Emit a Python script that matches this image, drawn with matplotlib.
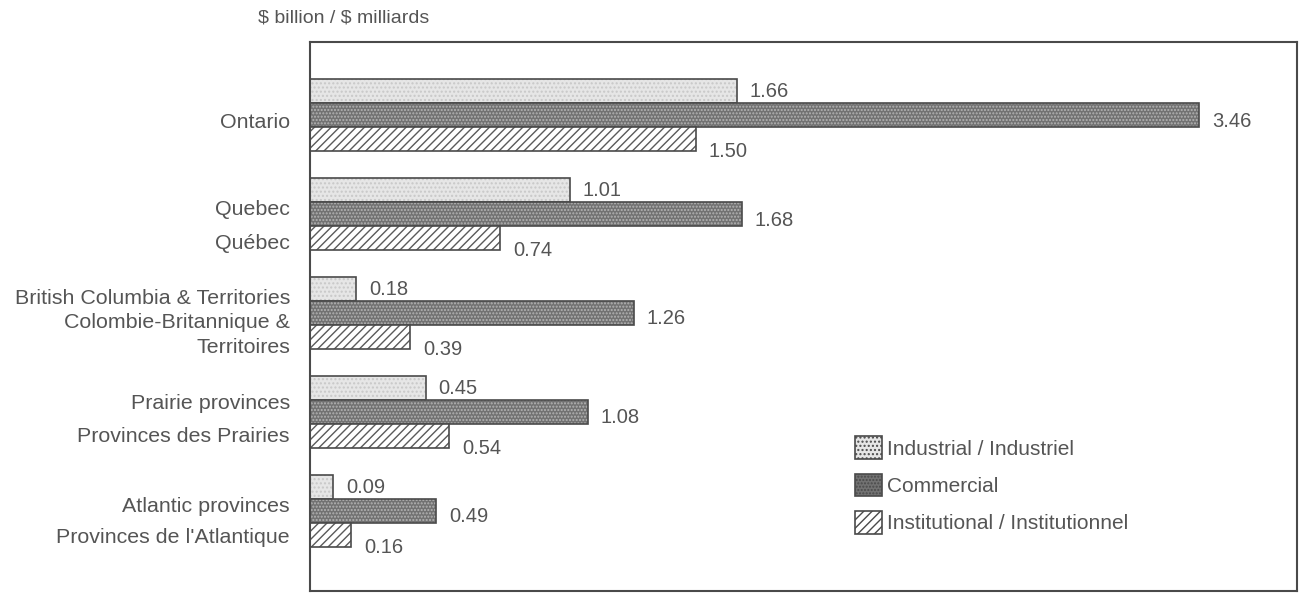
import matplotlib.pyplot as plt
import numpy as np

plt.rcParams['font.family'] = ['Liberation Sans', 'DejaVu Sans']
plt.rcParams['hatch.linewidth'] = 1.0

# Data
regions = ['Ontario',
           'Quebec\nQuébec',
           'British Columbia & Territories\nColombie-Britannique &\nTerritoires',
           'Prairie provinces\nProvinces des Prairies',
           'Atlantic provinces\nProvinces de l\'Atlantique']
industrial = [1.66, 1.01, 0.18, 0.45, 0.09]
commercial = [3.46, 1.68, 1.26, 1.08, 0.49]
institutional = [1.50, 0.74, 0.39, 0.54, 0.16]
labels = ['Industrial / Industriel', 'Commercial', 'Institutional / Institutionnel']

TXT = '#555555'
EDGE = '#4a4a4a'

fig = plt.figure(figsize=(13.04, 5.94), dpi=100)
ax = fig.add_axes([0.2377, 0.005, 0.757, 0.924])

y = np.arange(len(regions))
h = 0.24

series = [
    (industrial, -h, '#e6e6e6', '#c8c8c8', '....', 0),
    (commercial, 0, '#727272', '#b4b4b4', '.....', 6),
    (institutional, h, '#ffffff', '#5a5a5a', '////', 13),
]

handles = []
for (vals, off, face, hcol, hatch, dy), lab in zip(series, labels):
    # fill with hatch first, outline on top
    ax.barh(y + off, vals, height=h, color=face, edgecolor=hcol, hatch=hatch, linewidth=0)
    ax.barh(y + off, vals, height=h, color='none', edgecolor=EDGE, linewidth=1.2)
    for yi, v in zip(y + off, vals):
        ax.annotate(f'{v:.2f}', (v, yi), xytext=(13, -dy), textcoords='offset pixels',
                    va='center', ha='left', fontsize=14.5, color=TXT)
    handles.append(plt.Rectangle((0, 0), 1, 1, facecolor=face, edgecolor=EDGE, hatch=hatch, linewidth=1.2))

# region labels, drawn as text so the spacing can differ per label
spacing = [1.2, 2.0, 1.36, 1.95, 1.8]
shift = [7, 12, 10, 8, 11]
for yi, name, ls, dy in zip(y, regions, spacing, shift):
    ax.annotate(name, (0, yi), xytext=(-20, -dy), textcoords='offset pixels',
                ha='right', va='center', multialignment='right',
                fontsize=15.4, color=TXT, linespacing=ls, annotation_clip=False)

ax.set_xlim(0, 3.84)
ax.set_ylim(4.81, -0.737)
ax.set_xticks([])
ax.set_yticks([])
for s in ax.spines.values():
    s.set_color(EDGE)
    s.set_linewidth(1.5)

fig.text(258 / 1304, 1 - 18 / 594, r'\$ billion / \$ milliards', fontsize=14, color=TXT, va='center')

leg = ax.legend(handles, labels, loc='upper left', bbox_to_anchor=(0.533, 0.316),
                frameon=False, fontsize=15, handlelength=1.3, handleheight=1.3,
                labelspacing=0.7, handletextpad=0.25, labelcolor=TXT)

fig.savefig('out.png', dpi=100)
